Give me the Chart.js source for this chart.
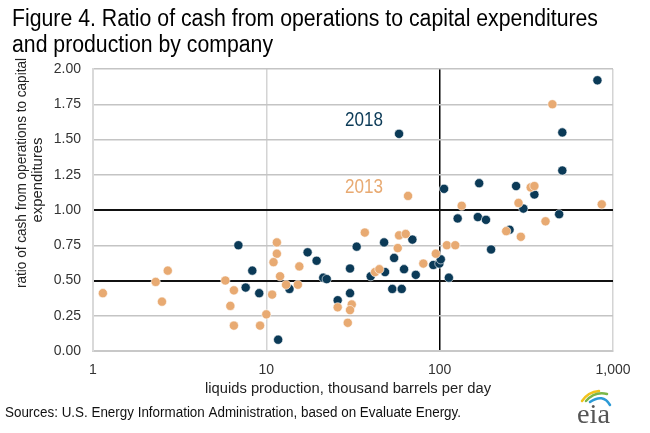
<!DOCTYPE html>
<html><head><meta charset="utf-8">
<script src="https://cdn.jsdelivr.net/npm/chart.js@4.4.1/dist/chart.umd.min.js"></script>
<style>html,body{margin:0;padding:0;background:#fff;}#wrap{width:650px;height:433px;}</style>
</head><body><div id="wrap"><canvas id="c" width="650" height="433"></canvas></div>
<script>
// ---- data ----
const prod2018 = [6.9, 8.3, 7.6, 9.1, 11.7, 13.6, 17.3, 19.5, 21.3, 22.3, 25.8, 30.4, 30.4, 33.2, 40, 47.8, 48.4, 53.3, 60.4, 54.6, 62.3, 69.6, 72.8, 91.9, 99.6, 101.5, 113, 58.3, 106, 127, 166, 185, 198, 253, 304, 489, 813, 510, 510, 169, 276, 352];
const ratio2018 = [0.75, 0.57, 0.45, 0.41, 0.08, 0.44, 0.70, 0.64, 0.52, 0.51, 0.36, 0.41, 0.585, 0.74, 0.53, 0.77, 0.56, 0.44, 0.44, 0.66, 0.58, 0.79, 0.54, 0.61, 0.62, 0.65, 0.52, 1.54, 1.15, 0.94, 0.95, 0.93, 0.72, 0.86, 1.01, 0.97, 1.92, 1.55, 1.28, 1.19, 1.17, 1.11];
const prod2013 = [1.14, 2.3, 2.7, 2.5, 5.8, 6.5, 6.2, 6.5, 9.2, 10.0, 10.8, 11.5, 11.5, 11.0, 12.0, 13.0, 15.2, 15.5, 25.8, 31.1, 30.4, 29.5, 37.0, 42.4, 44.9, 57.3, 58.3, 63.7, 80.5, 95, 110, 123, 65.7, 134, 242, 294, 285, 408, 861, 447, 335, 352];
const ratio2013 = [0.41, 0.49, 0.57, 0.35, 0.50, 0.43, 0.32, 0.18, 0.18, 0.26, 0.40, 0.77, 0.69, 0.63, 0.53, 0.47, 0.47, 0.60, 0.31, 0.33, 0.29, 0.20, 0.84, 0.56, 0.58, 0.73, 0.82, 0.83, 0.62, 0.69, 0.75, 0.75, 1.10, 1.03, 0.85, 0.81, 1.05, 0.92, 1.04, 1.75, 1.16, 1.17];
const seriesNames = ['2013', '2018'];
const xTickValues = [1, 10, 100, 1000];
const yTickValues = [0, 0.25, 0.5, 0.75, 1.0, 1.25, 1.5, 1.75, 2.0];
const titleLines = ['Figure 4. Ratio of cash from operations to capital expenditures', 'and production by company'];
const yTitleLines = ['ratio of cash from operations to capital', 'expenditures'];
const xTitle = 'liquids production, thousand barrels per day';
const sourceText = 'Sources: U.S. Energy Information Administration, based on Evaluate Energy.';

const NAVY = '#0b3a57';
const ORANGE = '#e8aa72';
const FONT = '"Liberation Sans", Arial, sans-serif';

function toPts(xs, ys){ return xs.map((x,i)=>({x:x, y:ys[i]})); }

function fitText(ctx, text, x, y, w, font, color){
  ctx.save();
  ctx.font = font; ctx.fillStyle = color; ctx.textBaseline = 'alphabetic'; ctx.textAlign='left';
  const m = ctx.measureText(text).width;
  ctx.translate(x, y); ctx.scale(w/m, 1); ctx.fillText(text, 0, 0);
  ctx.restore();
}
function fitTextRot(ctx, text, cx, cy, w, font, color){
  ctx.save();
  ctx.font = font; ctx.fillStyle = color; ctx.textBaseline = 'middle'; ctx.textAlign='center';
  const m = ctx.measureText(text).width;
  ctx.translate(cx, cy); ctx.rotate(-Math.PI/2); ctx.scale(w/m, 1); ctx.fillText(text, 0, 0);
  ctx.restore();
}

const textPlugin = {
  id: 'texts',
  afterDraw(chart){
    const ctx = chart.ctx;
    fitText(ctx, titleLines[0], 12, 26, 586, '23px ' + FONT, '#000');
    fitText(ctx, titleLines[1], 12, 52, 261, '23px ' + FONT, '#000');
    fitTextRot(ctx, yTitleLines[0], 22, 173, 230, '14px ' + FONT, '#222');
    fitTextRot(ctx, yTitleLines[1], 38, 180, 85, '14px ' + FONT, '#222');
    fitText(ctx, xTitle, 205, 393, 286, '14px ' + FONT, '#222');
    fitText(ctx, sourceText, 5, 417, 456, '14px ' + FONT, '#111');
    fitText(ctx, seriesNames[1], 345, 126, 38, '20px ' + FONT, NAVY);
    fitText(ctx, seriesNames[0], 345, 193, 38, '20px ' + FONT, ORANGE);
    // eia logo
    ctx.save();
    ctx.lineCap = 'round';
    ctx.lineWidth = 2.5;
    ctx.strokeStyle = '#f2c21b';
    ctx.beginPath(); ctx.moveTo(582,401); ctx.quadraticCurveTo(588,392,599,391); ctx.stroke();
    ctx.strokeStyle = '#7ab648';
    ctx.beginPath(); ctx.moveTo(586,401); ctx.quadraticCurveTo(595,391,607,394); ctx.stroke();
    ctx.strokeStyle = '#2c9ad6';
    ctx.beginPath(); ctx.moveTo(590,402); ctx.quadraticCurveTo(603,393,610,405); ctx.stroke();
    ctx.restore();
    fitText(ctx, 'eia', 577, 423, 33, '28px "Liberation Serif", serif', '#555');
  }
};

new Chart(document.getElementById('c'), {
  type: 'scatter',
  data: {
    datasets: [
      { label: seriesNames[0], data: toPts(prod2013, ratio2013), backgroundColor: ORANGE, borderColor: '#ffffff', borderWidth: 0.6, pointRadius: 4.6 },
      { label: seriesNames[1], data: toPts(prod2018, ratio2018), backgroundColor: NAVY, borderColor: '#ffffff', borderWidth: 0.6, pointRadius: 4.6 }
    ]
  },
  options: {
    responsive: false,
    animation: false,
    devicePixelRatio: 1,
    layout: { padding: { left: 0, top: 69, right: 37, bottom: 0 } },
    plugins: { legend: { display: false }, tooltip: { enabled: false } },
    scales: {
      x: {
        type: 'logarithmic', min: 1, max: 1000, position: 'bottom',
        afterBuildTicks: s => { s.ticks = xTickValues.map(v => ({ value: v })); },
        afterFit: s => { s.height = 82; },
        ticks: { callback: v => Number(v).toLocaleString('en-US'), font: { family: FONT, size: 14 }, color: '#333333', padding: 11, maxRotation: 0, autoSkip: false },
        grid: { drawTicks: false, color: c => (c.tick && c.tick.value === 100) ? '#000000' : '#d4d4d4', lineWidth: 1.5 },
        border: { display: true, color: '#c8c8c8', width: 2 }
      },
      y: {
        min: 0, max: 2,
        afterBuildTicks: s => { s.ticks = yTickValues.map(v => ({ value: v })); },
        afterFit: s => { s.width = 93; },
        ticks: { callback: v => Number(v).toFixed(2), font: { family: FONT, size: 14 }, color: '#333333', padding: 12 },
        grid: { drawTicks: false, color: c => (c.tick && (c.tick.value === 0.5 || c.tick.value === 1)) ? '#111111' : '#c4c4c4', lineWidth: c => (c.tick && (c.tick.value === 0.5 || c.tick.value === 1)) ? 2 : 1.5 },
        border: { display: true, color: '#d9d9d9', width: 2 }
      }
    }
  },
  plugins: [textPlugin]
});
</script>
</body></html>
